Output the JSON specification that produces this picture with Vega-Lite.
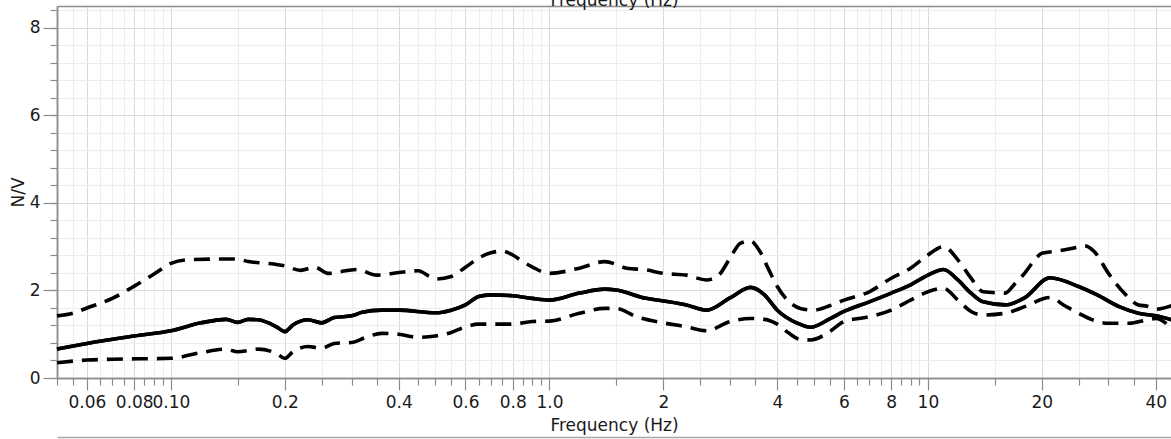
{
  "$schema": "https://vega.github.io/schema/vega-lite/v6.json",
  "width": 1114,
  "height": 372,
  "autosize": {"type": "none"},
  "padding": {"left": 57, "top": 6, "right": 0, "bottom": 61},
  "background": "white",
  "config": {
    "view": {"stroke": null},
    "axis": {
      "labelFont": "DejaVu Sans", "titleFont": "DejaVu Sans",
      "labelFontSize": 17, "titleFontSize": 17, "titleFontWeight": "normal",
      "labelColor": "#1a1a1a", "titleColor": "#1a1a1a",
      "domainColor": "#8c8c8c", "tickColor": "#8c8c8c", "domainWidth": 1.5, "tickWidth": 1.2
    }
  },
  "data": {"values": [
    {"s":"mean","f":0.05,"v":0.66},{"s":"mean","f":0.06,"v":0.79},{"s":"mean","f":0.08,"v":0.96},{"s":"mean","f":0.1,"v":1.08},
    {"s":"mean","f":0.12,"v":1.26},{"s":"mean","f":0.14,"v":1.34},{"s":"mean","f":0.15,"v":1.27},{"s":"mean","f":0.16,"v":1.34},
    {"s":"mean","f":0.17,"v":1.33},{"s":"mean","f":0.19,"v":1.17},{"s":"mean","f":0.2,"v":1.06},{"s":"mean","f":0.21,"v":1.21},
    {"s":"mean","f":0.23,"v":1.33},{"s":"mean","f":0.25,"v":1.26},{"s":"mean","f":0.27,"v":1.38},{"s":"mean","f":0.3,"v":1.42},
    {"s":"mean","f":0.32,"v":1.5},{"s":"mean","f":0.36,"v":1.55},{"s":"mean","f":0.4,"v":1.55},{"s":"mean","f":0.5,"v":1.49},
    {"s":"mean","f":0.55,"v":1.55},{"s":"mean","f":0.6,"v":1.67},{"s":"mean","f":0.65,"v":1.86},{"s":"mean","f":0.7,"v":1.9},
    {"s":"mean","f":0.8,"v":1.88},{"s":"mean","f":0.9,"v":1.82},{"s":"mean","f":1.0,"v":1.78},{"s":"mean","f":1.2,"v":1.94},
    {"s":"mean","f":1.4,"v":2.03},{"s":"mean","f":1.5,"v":2.01},{"s":"mean","f":1.8,"v":1.82},{"s":"mean","f":2.0,"v":1.76},
    {"s":"mean","f":2.3,"v":1.67},{"s":"mean","f":2.6,"v":1.55},{"s":"mean","f":3.0,"v":1.83},{"s":"mean","f":3.4,"v":2.07},
    {"s":"mean","f":3.7,"v":1.9},{"s":"mean","f":4.0,"v":1.55},{"s":"mean","f":4.5,"v":1.26},{"s":"mean","f":4.9,"v":1.16},
    {"s":"mean","f":5.5,"v":1.35},{"s":"mean","f":6,"v":1.52},{"s":"mean","f":7,"v":1.74},{"s":"mean","f":8,"v":1.94},
    {"s":"mean","f":9,"v":2.13},{"s":"mean","f":10,"v":2.35},{"s":"mean","f":11,"v":2.48},{"s":"mean","f":12,"v":2.24},
    {"s":"mean","f":13,"v":1.94},{"s":"mean","f":14,"v":1.74},{"s":"mean","f":16,"v":1.67},{"s":"mean","f":18,"v":1.83},
    {"s":"mean","f":21,"v":2.29},{"s":"mean","f":25,"v":2.09},{"s":"mean","f":28,"v":1.9},{"s":"mean","f":32,"v":1.63},
    {"s":"mean","f":36,"v":1.48},{"s":"mean","f":40,"v":1.42},{"s":"mean","f":44,"v":1.33},

    {"s":"upper","f":0.05,"v":1.42},{"s":"upper","f":0.055,"v":1.48},{"s":"upper","f":0.06,"v":1.6},{"s":"upper","f":0.07,"v":1.82},
    {"s":"upper","f":0.08,"v":2.1},{"s":"upper","f":0.09,"v":2.37},{"s":"upper","f":0.1,"v":2.62},{"s":"upper","f":0.11,"v":2.7},
    {"s":"upper","f":0.14,"v":2.72},{"s":"upper","f":0.15,"v":2.72},{"s":"upper","f":0.16,"v":2.66},{"s":"upper","f":0.18,"v":2.62},
    {"s":"upper","f":0.2,"v":2.56},{"s":"upper","f":0.22,"v":2.46},{"s":"upper","f":0.24,"v":2.53},{"s":"upper","f":0.26,"v":2.39},
    {"s":"upper","f":0.29,"v":2.45},{"s":"upper","f":0.31,"v":2.48},{"s":"upper","f":0.35,"v":2.35},{"s":"upper","f":0.4,"v":2.41},
    {"s":"upper","f":0.45,"v":2.45},{"s":"upper","f":0.48,"v":2.33},{"s":"upper","f":0.5,"v":2.26},{"s":"upper","f":0.55,"v":2.32},
    {"s":"upper","f":0.6,"v":2.53},{"s":"upper","f":0.65,"v":2.74},{"s":"upper","f":0.7,"v":2.86},{"s":"upper","f":0.75,"v":2.9},
    {"s":"upper","f":0.8,"v":2.81},{"s":"upper","f":0.85,"v":2.66},{"s":"upper","f":0.9,"v":2.54},{"s":"upper","f":1.0,"v":2.39},
    {"s":"upper","f":1.2,"v":2.51},{"s":"upper","f":1.4,"v":2.66},{"s":"upper","f":1.6,"v":2.51},{"s":"upper","f":1.8,"v":2.47},
    {"s":"upper","f":2.0,"v":2.39},{"s":"upper","f":2.3,"v":2.35},{"s":"upper","f":2.6,"v":2.24},{"s":"upper","f":2.8,"v":2.35},
    {"s":"upper","f":3.0,"v":2.74},{"s":"upper","f":3.2,"v":3.08},{"s":"upper","f":3.4,"v":3.13},{"s":"upper","f":3.6,"v":2.89},
    {"s":"upper","f":3.8,"v":2.47},{"s":"upper","f":4.0,"v":2.09},{"s":"upper","f":4.3,"v":1.74},{"s":"upper","f":4.6,"v":1.59},
    {"s":"upper","f":5,"v":1.55},{"s":"upper","f":5.5,"v":1.65},{"s":"upper","f":6,"v":1.78},{"s":"upper","f":7,"v":1.97},
    {"s":"upper","f":8,"v":2.28},{"s":"upper","f":9,"v":2.51},{"s":"upper","f":10,"v":2.81},{"s":"upper","f":11,"v":3.0},
    {"s":"upper","f":12,"v":2.7},{"s":"upper","f":13,"v":2.28},{"s":"upper","f":14,"v":1.97},{"s":"upper","f":16,"v":1.94},
    {"s":"upper","f":17,"v":2.16},{"s":"upper","f":18,"v":2.39},{"s":"upper","f":19,"v":2.66},{"s":"upper","f":20,"v":2.85},
    {"s":"upper","f":22,"v":2.9},{"s":"upper","f":25,"v":2.99},{"s":"upper","f":26,"v":3.02},{"s":"upper","f":27.5,"v":2.89},
    {"s":"upper","f":30,"v":2.39},{"s":"upper","f":33,"v":1.94},{"s":"upper","f":36,"v":1.67},{"s":"upper","f":38,"v":1.64},
    {"s":"upper","f":40,"v":1.57},{"s":"upper","f":44,"v":1.65},

    {"s":"lower","f":0.05,"v":0.35},{"s":"lower","f":0.06,"v":0.41},{"s":"lower","f":0.07,"v":0.43},{"s":"lower","f":0.1,"v":0.45},
    {"s":"lower","f":0.12,"v":0.58},{"s":"lower","f":0.14,"v":0.66},{"s":"lower","f":0.15,"v":0.6},{"s":"lower","f":0.17,"v":0.66},
    {"s":"lower","f":0.19,"v":0.56},{"s":"lower","f":0.2,"v":0.45},{"s":"lower","f":0.21,"v":0.6},{"s":"lower","f":0.23,"v":0.72},
    {"s":"lower","f":0.25,"v":0.68},{"s":"lower","f":0.27,"v":0.79},{"s":"lower","f":0.3,"v":0.81},{"s":"lower","f":0.33,"v":0.94},
    {"s":"lower","f":0.36,"v":1.02},{"s":"lower","f":0.4,"v":1.0},{"s":"lower","f":0.45,"v":0.93},{"s":"lower","f":0.5,"v":0.96},
    {"s":"lower","f":0.55,"v":1.04},{"s":"lower","f":0.6,"v":1.17},{"s":"lower","f":0.65,"v":1.23},{"s":"lower","f":0.75,"v":1.23},
    {"s":"lower","f":0.8,"v":1.23},{"s":"lower","f":0.9,"v":1.29},{"s":"lower","f":1.0,"v":1.3},{"s":"lower","f":1.2,"v":1.48},
    {"s":"lower","f":1.4,"v":1.59},{"s":"lower","f":1.5,"v":1.59},{"s":"lower","f":1.7,"v":1.4},{"s":"lower","f":2.0,"v":1.26},
    {"s":"lower","f":2.3,"v":1.17},{"s":"lower","f":2.6,"v":1.08},{"s":"lower","f":3.0,"v":1.29},{"s":"lower","f":3.4,"v":1.36},
    {"s":"lower","f":3.7,"v":1.34},{"s":"lower","f":4.0,"v":1.23},{"s":"lower","f":4.3,"v":1.02},{"s":"lower","f":4.6,"v":0.88},
    {"s":"lower","f":4.9,"v":0.87},{"s":"lower","f":5.5,"v":1.06},{"s":"lower","f":6,"v":1.29},{"s":"lower","f":7,"v":1.4},
    {"s":"lower","f":8,"v":1.55},{"s":"lower","f":9,"v":1.78},{"s":"lower","f":10,"v":1.97},{"s":"lower","f":11,"v":2.05},
    {"s":"lower","f":12,"v":1.78},{"s":"lower","f":13,"v":1.52},{"s":"lower","f":14,"v":1.44},{"s":"lower","f":16,"v":1.48},
    {"s":"lower","f":18,"v":1.63},{"s":"lower","f":21,"v":1.84},{"s":"lower","f":23,"v":1.65},{"s":"lower","f":25,"v":1.48},
    {"s":"lower","f":27,"v":1.34},{"s":"lower","f":30,"v":1.25},{"s":"lower","f":34,"v":1.25},{"s":"lower","f":38,"v":1.33},
    {"s":"lower","f":40,"v":1.36},{"s":"lower","f":44,"v":1.14}
  ]},
  "layer": [
    {
      "transform": [{"filter": "datum.s === 'mean'"}],
      "mark": {"type": "line", "color": "#000", "strokeWidth": 3.6, "interpolate": "monotone"},
      "encoding": {
        "x": {"field": "f", "type": "quantitative",
          "scale": {"type": "log", "domain": [0.05, 43.88], "nice": false},
          "axis": {"orient": "bottom", "values": [0.05,0.055,0.065,0.07,0.075,0.085,0.09,0.095,0.15,0.25,0.3,0.35,0.45,0.5,0.55,0.65,0.7,0.75,0.85,0.9,0.95,1.5,2.5,3,3.5,4.5,5,5.5,6.5,7,7.5,8.5,9,9.5,15,25,30,35],
            "grid": true, "gridColor": "#ededed", "gridWidth": 1, "tickSize": 7, "labels": false, "title": null, "domain": true}},
        "y": {"field": "v", "type": "quantitative",
          "scale": {"domain": [0, 8.5], "nice": false, "zero": false},
          "axis": {"orient": "left", "values": [0,0.4,0.8,1.2,1.6,2,2.4,2.8,3.2,3.6,4,4.4,4.8,5.2,5.6,6,6.4,6.8,7.2,7.6,8,8.4],
            "grid": true, "gridColor": "#ededed", "gridWidth": 1, "tickSize": 7, "labels": false, "title": null, "domain": true}}
      }
    },
    {
      "transform": [{"filter": "datum.s === 'upper'"}],
      "mark": {"type": "line", "color": "#000", "strokeWidth": 3.6, "strokeDash": [16, 9], "interpolate": "monotone"},
      "encoding": {
        "x": {"field": "f", "type": "quantitative",
          "scale": {"type": "log", "domain": [0.05, 43.88], "nice": false},
          "axis": {"orient": "bottom", "values": [0.06,0.08,0.1,0.2,0.4,0.6,0.8,1,2,4,6,8,10,20,40],
            "grid": true, "gridColor": "#dadada", "gridWidth": 1, "tickSize": 12, "labelPadding": 4,
            "labelExpr": "datum.value == 0.1 ? '0.10' : datum.value == 1 ? '1.0' : format(datum.value, '~g')",
            "labelOverlap": false, "labelBound": false, "labelFlush": false,
            "title": "Frequency (Hz)", "titlePadding": 7, "domain": true}},
        "y": {"field": "v", "type": "quantitative",
          "scale": {"domain": [0, 8.5], "nice": false, "zero": false},
          "axis": {"orient": "left", "values": [0,2,4,6,8],
            "grid": true, "gridColor": "#dadada", "gridWidth": 1, "tickSize": 14, "labelPadding": 3,
            "labelFlush": false, "labelOverlap": false, "title": "N/V", "titlePadding": 2, "domain": true}}
      }
    },
    {
      "transform": [{"filter": "datum.s === 'lower'"}],
      "mark": {"type": "line", "color": "#000", "strokeWidth": 3.6, "strokeDash": [16, 9], "interpolate": "monotone"},
      "encoding": {
        "x": {"field": "f", "type": "quantitative",
          "scale": {"type": "log", "domain": [0.05, 43.88], "nice": false},
          "axis": {"orient": "top", "values": [], "grid": false, "ticks": false, "labels": false,
            "domain": true, "title": "Frequency (Hz)", "titleY": -1, "titleBaseline": "alphabetic"}},
        "y": {"field": "v", "type": "quantitative",
          "scale": {"domain": [0, 8.5], "nice": false, "zero": false},
          "axis": null}
      }
    },
    {
      "transform": [{"filter": "datum.s === 'mean'"}],
      "mark": {"type": "line", "color": "#000", "strokeWidth": 3.6, "interpolate": "monotone"},
      "encoding": {
        "x": {"field": "f", "type": "quantitative",
          "scale": {"type": "log", "domain": [0.05, 43.88], "nice": false},
          "axis": {"orient": "bottom", "offset": 59, "values": [], "grid": false, "ticks": false, "labels": false,
            "domain": true, "domainColor": "#a8a8a8", "title": null}},
        "y": {"field": "v", "type": "quantitative",
          "scale": {"domain": [0, 8.5], "nice": false, "zero": false},
          "axis": null}
      }
    }
  ],
  "resolve": {"axis": {"x": "independent", "y": "independent"}}
}
